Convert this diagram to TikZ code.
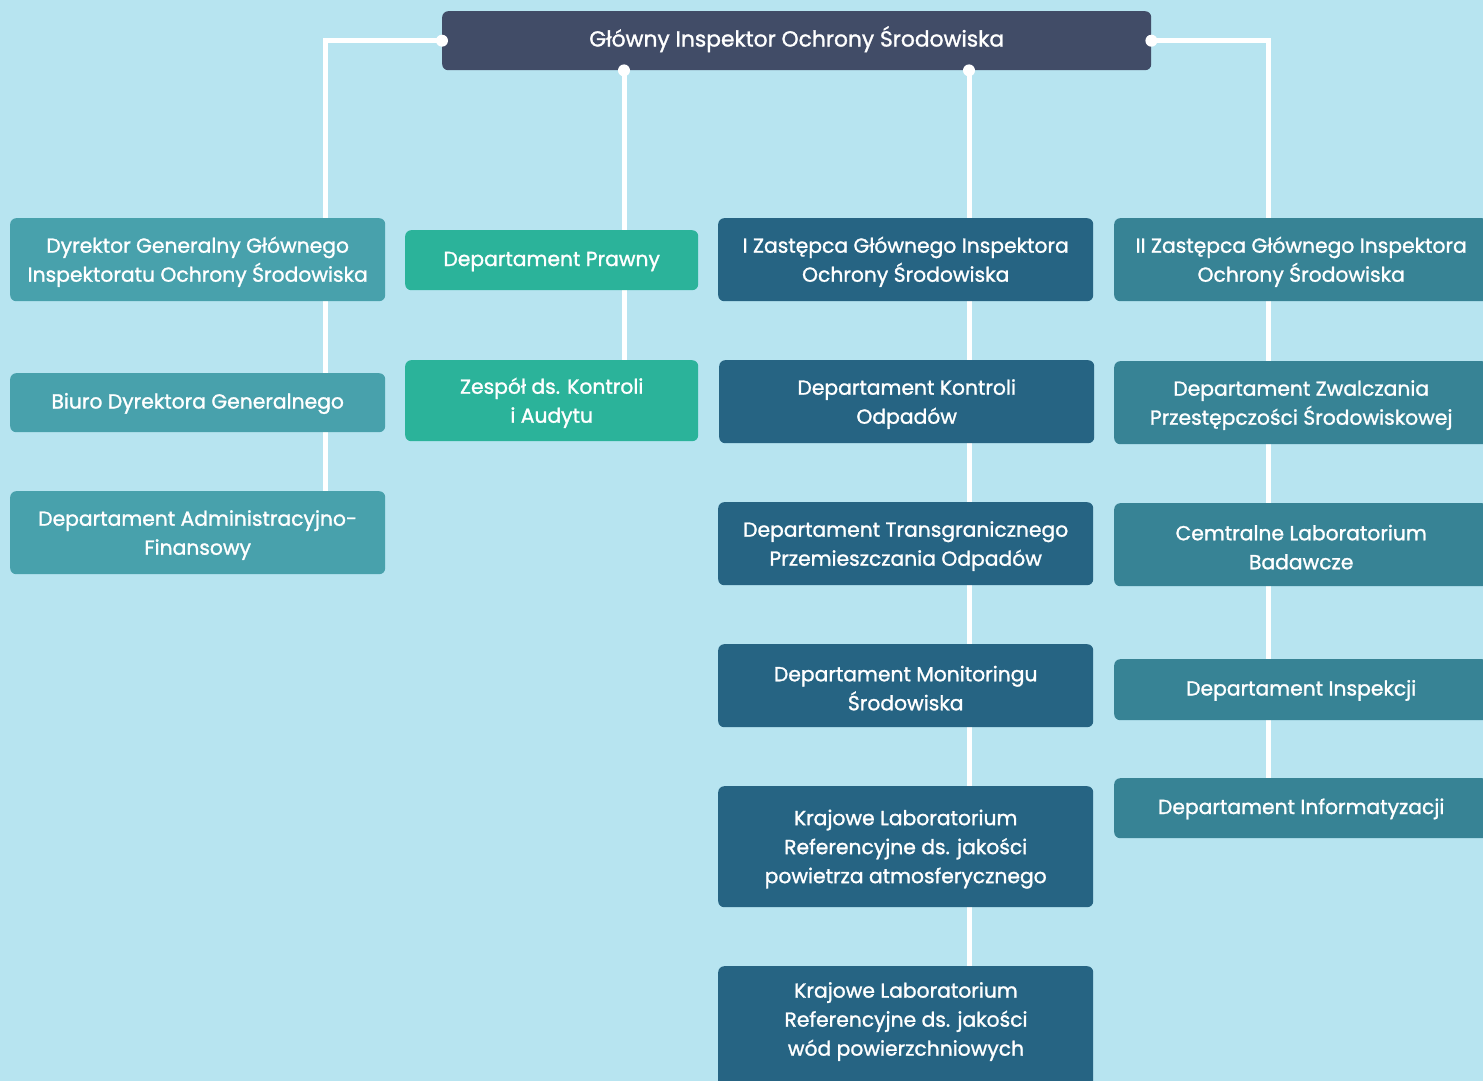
\documentclass[tikz,border=0pt]{standalone}
\usepackage{fontspec}
\setmainfont{Poppins}[FakeBold=1.3]
\usetikzlibrary{calc}
\definecolor{bgc}{HTML}{B7E4F0}
\definecolor{topc}{HTML}{414C67}
\definecolor{colA}{HTML}{48A1AC}
\definecolor{colB}{HTML}{2BB39A}
\definecolor{colC}{HTML}{266483}
\definecolor{colD}{HTML}{378395}
\pgfdeclarelayer{back}
\pgfdeclarelayer{lines}
\pgfsetlayers{back,lines,main}
\tikzset{
  orgbox/.style={fill=#1, rounded corners=6pt, text=white, align=center,
    anchor=north west, inner sep=0pt, font=\fontsize{20.3}{29}\selectfont},
  wire/.style={draw=white, line width=5pt},
  dot/.style={fill=white, circle, inner sep=0pt, minimum size=12pt}
}
\newcommand{\obox}[7]{% name, colour, x1, y1, x2, y2, text
  \node[orgbox=#2, minimum width=#5pt-#3pt, minimum height=#6pt-#4pt] (#1) at (#3,#4) {\strut#7};}
\begin{document}
\begin{tikzpicture}[x=1pt,y=-1pt]
\begin{pgfonlayer}{back}
\fill[bgc] (0,0) rectangle (1483,1081);
\end{pgfonlayer}
\useasboundingbox (0,0) rectangle (1483,1081);
\clip (0,0) rectangle (1483,1081);
% top
\obox{gios}{topc}{442}{11}{1151}{70}{\fontsize{21.8}{29}\selectfont Główny Inspektor Ochrony Środowiska}
% column A
\obox{dg}{colA}{10}{218}{385}{301}{Dyrektor Generalny Głównego\\Inspektoratu Ochrony Środowiska}
\obox{biuro}{colA}{10}{373}{385}{432}{Biuro Dyrektora Generalnego}
\obox{daf}{colA}{10}{491}{385}{574}{Departament Administracyjno-\\Finansowy}
% column B
\obox{dp}{colB}{405}{230}{698}{290}{Departament Prawny}
\obox{zka}{colB}{405}{360}{698}{441}{Zespół ds. Kontroli\\i Audytu}
% column C
\obox{z1}{colC}{718}{218}{1093}{301}{I Zastępca Głównego Inspektora\\Ochrony Środowiska}
\obox{dko}{colC}{719}{360}{1094}{443}{Departament Kontroli\\Odpadów}
\obox{dtp}{colC}{718}{502}{1093}{585}{Departament Transgranicznego\\Przemieszczania Odpadów}
\obox{dms}{colC}{718}{644}{1093}{727}{Departament Monitoringu\\Środowiska}
\obox{klp}{colC}{718}{786}{1093}{907}{Krajowe Laboratorium\\Referencyjne ds. jakości\\powietrza atmosferycznego}
\obox{klw}{colC}{718}{966}{1093}{1130}{}
\node[text=white, align=center, font=\fontsize{20.3}{29}\selectfont, anchor=north, inner sep=0pt] (klwt) at (906,982)
  {Krajowe Laboratorium\\Referencyjne ds. jakości\\wód powierzchniowych};
% column D
\obox{z2}{colD}{1114}{218}{1488}{301}{II Zastępca Głównego Inspektora\\Ochrony Środowiska}
\obox{dzp}{colD}{1114}{361}{1488}{444}{Departament Zwalczania\\Przestępczości Środowiskowej}
\obox{clb}{colD}{1114}{503}{1488}{586}{Cemtralne Laboratorium\\Badawcze}
\obox{dins}{colD}{1114}{659}{1488}{720}{Departament Inspekcji}
\obox{dinf}{colD}{1114}{778}{1488}{838}{Departament Informatyzacji}
% connector anchor points
\coordinate (xL) at (325,0);
\coordinate (xB) at (624,0);
\coordinate (xC) at (969,0);
\coordinate (xR) at (1268,0);
\coordinate (pB) at (xB |- gios.south);
\coordinate (pC) at (xC |- gios.south);
\begin{pgfonlayer}{lines}
\draw[wire] (gios.west) -| (xL |- daf.north);
\draw[wire] (gios.east) -| (xR |- dinf.north);
\draw[wire] (pB) -- (xB |- zka.north);
\draw[wire] (pC) -- (xC |- klw.north);
\end{pgfonlayer}
\node[dot] at (gios.west) {};
\node[dot] at (gios.east) {};
\node[dot] at (pB) {};
\node[dot] at (pC) {};
\end{tikzpicture}
\end{document}
